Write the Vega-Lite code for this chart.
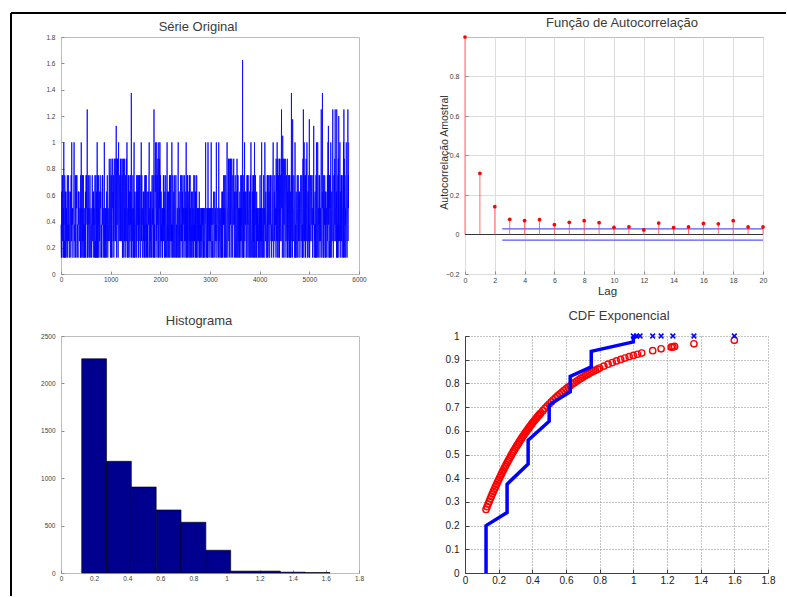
{
  "$schema": "https://vega.github.io/schema/vega-lite/v6.json",
  "background": "white",
  "padding": {"left": 9, "top": 11, "right": 0, "bottom": 0},
  "columns": 2,
  "spacing": {"row": 62, "column": 106},
  "bounds": "flush",
  "config": {
    "font": "Liberation Sans",
    "view": {"stroke": "#bdbdbd", "strokeWidth": 1},
    "axis": {
      "grid": false, "domain": false, "ticks": true, "tickColor": "#8c8c8c", "tickSize": -3,
      "labelFont": "Liberation Sans", "labelFontSize": 6.5, "labelColor": "#404040",
      "labelFlush": false, "labelOverlap": false, "labelBound": false,
      "titleFont": "Liberation Sans", "titleFontWeight": "normal", "titleColor": "#303030"
    },
    "axisX": {"labelPadding": 5},
    "axisY": {"labelPadding": 9},
    "title": {"font": "Liberation Sans", "fontSize": 13, "fontWeight": "normal", "color": "#3a3a3a", "frame": "group", "anchor": "middle"}
  },
  "concat": [
    {
      "width": 298, "height": 237,
      "title": {"text": "Série Original", "dx": -12, "offset": -22},
      "layer": [
        {
          "data": {"values": [
{"t":0,"v":0.375},{"t":8,"v":0.125},{"t":16,"v":0.25},{"t":24,"v":0.75},{"t":32,"v":0.25},{"t":40,"v":0.5},{"t":48,"v":0.5},{"t":56,"v":1},{"t":64,"v":0.125},{"t":72,"v":0.125},{"t":80,"v":0.625},{"t":88,"v":0.625},{"t":96,"v":0.375},{"t":104,"v":0.125},{"t":112,"v":0.375},
{"t":120,"v":0.5},{"t":128,"v":0.75},{"t":136,"v":0.125},{"t":144,"v":0.25},{"t":152,"v":0.75},{"t":160,"v":0.625},{"t":168,"v":0.125},{"t":176,"v":0.375},{"t":184,"v":0.375},{"t":192,"v":0.625},{"t":200,"v":0.125},{"t":208,"v":0.25},{"t":216,"v":1},{"t":224,"v":0.5},{"t":232,"v":0.5},
{"t":240,"v":0.125},{"t":248,"v":0.375},{"t":256,"v":0.5},{"t":264,"v":1},{"t":272,"v":0.25},{"t":280,"v":0.125},{"t":288,"v":0.75},{"t":296,"v":0.125},{"t":304,"v":0.75},{"t":312,"v":0.5},{"t":320,"v":0.75},{"t":328,"v":0.25},{"t":336,"v":0.375},{"t":344,"v":0.125},{"t":352,"v":0.625},
{"t":360,"v":0.625},{"t":368,"v":0.25},{"t":376,"v":0.375},{"t":384,"v":0.5},{"t":392,"v":0.125},{"t":400,"v":0.125},{"t":408,"v":1},{"t":416,"v":0.375},{"t":424,"v":0.5},{"t":432,"v":0.75},{"t":440,"v":0.125},{"t":448,"v":0.25},{"t":456,"v":0.5},{"t":464,"v":0.25},{"t":472,"v":0.125},
{"t":480,"v":0.375},{"t":488,"v":0.125},{"t":496,"v":0.25},{"t":504,"v":0.75},{"t":512,"v":0.5},{"t":520,"v":0.625},{"t":528,"v":1.25},{"t":536,"v":0.125},{"t":544,"v":0.125},{"t":552,"v":0.375},{"t":560,"v":0.625},{"t":568,"v":0.5},{"t":576,"v":0.25},{"t":584,"v":0.75},{"t":592,"v":0.375},
{"t":600,"v":0.125},{"t":608,"v":0.5},{"t":616,"v":0.375},{"t":624,"v":0.375},{"t":632,"v":0.75},{"t":640,"v":0.25},{"t":648,"v":0.125},{"t":656,"v":0.625},{"t":664,"v":0.5},{"t":672,"v":0.25},{"t":680,"v":0.5},{"t":688,"v":0.125},{"t":696,"v":0.125},{"t":704,"v":0.75},{"t":712,"v":0.625},
{"t":720,"v":0.375},{"t":728,"v":1},{"t":736,"v":0.125},{"t":744,"v":0.125},{"t":752,"v":0.75},{"t":760,"v":0.5},{"t":768,"v":0.5},{"t":776,"v":0.25},{"t":784,"v":0.375},{"t":792,"v":0.75},{"t":800,"v":0.625},{"t":808,"v":0.25},{"t":816,"v":0.125},{"t":824,"v":0.375},{"t":832,"v":0.75},
{"t":840,"v":0.75},{"t":848,"v":0.125},{"t":856,"v":0.375},{"t":864,"v":0.5},{"t":872,"v":1},{"t":880,"v":0.125},{"t":888,"v":0.25},{"t":896,"v":0.375},{"t":904,"v":0.5},{"t":912,"v":0.125},{"t":920,"v":0.625},{"t":928,"v":0.25},{"t":936,"v":0.5},{"t":944,"v":0.125},{"t":952,"v":0.375},
{"t":960,"v":0.375},{"t":968,"v":0.625},{"t":976,"v":0.5},{"t":984,"v":0.75},{"t":992,"v":0.25},{"t":1000,"v":0.75},{"t":1008,"v":0.875},{"t":1016,"v":0.125},{"t":1024,"v":0.25},{"t":1032,"v":0.5},{"t":1040,"v":0.875},{"t":1048,"v":0.625},{"t":1056,"v":0.375},{"t":1064,"v":0.125},{"t":1072,"v":0.875},
{"t":1080,"v":0.875},{"t":1088,"v":0.25},{"t":1096,"v":0.5},{"t":1104,"v":0.625},{"t":1112,"v":1.125},{"t":1120,"v":0.125},{"t":1128,"v":0.375},{"t":1136,"v":0.875},{"t":1144,"v":0.875},{"t":1152,"v":0.125},{"t":1160,"v":1},{"t":1168,"v":0.375},{"t":1176,"v":0.5},{"t":1184,"v":0.75},{"t":1192,"v":0.25},
{"t":1200,"v":0.25},{"t":1208,"v":0.875},{"t":1216,"v":0.625},{"t":1224,"v":0.375},{"t":1232,"v":0.75},{"t":1240,"v":0.125},{"t":1248,"v":0.125},{"t":1256,"v":0.875},{"t":1264,"v":0.75},{"t":1272,"v":0.5},{"t":1280,"v":0.25},{"t":1288,"v":0.5},{"t":1296,"v":0.75},{"t":1304,"v":0.125},{"t":1312,"v":0.875},
{"t":1320,"v":0.5},{"t":1328,"v":1},{"t":1336,"v":0.125},{"t":1344,"v":0.375},{"t":1352,"v":0.125},{"t":1360,"v":0.5},{"t":1368,"v":0.75},{"t":1376,"v":0.625},{"t":1384,"v":0.375},{"t":1392,"v":0.25},{"t":1400,"v":0.75},{"t":1408,"v":0.625},{"t":1416,"v":1.375},{"t":1424,"v":0.125},{"t":1432,"v":0.25},
{"t":1440,"v":0.375},{"t":1448,"v":0.75},{"t":1456,"v":0.5},{"t":1464,"v":0.125},{"t":1472,"v":1},{"t":1480,"v":0.125},{"t":1488,"v":0.5},{"t":1496,"v":0.25},{"t":1504,"v":0.375},{"t":1512,"v":0.625},{"t":1520,"v":0.125},{"t":1528,"v":0.25},{"t":1536,"v":0.75},{"t":1544,"v":0.375},{"t":1552,"v":0.625},
{"t":1560,"v":0.75},{"t":1568,"v":0.125},{"t":1576,"v":0.375},{"t":1584,"v":0.5},{"t":1592,"v":0.75},{"t":1600,"v":0.125},{"t":1608,"v":0.25},{"t":1616,"v":1},{"t":1624,"v":0.5},{"t":1632,"v":0.375},{"t":1640,"v":0.125},{"t":1648,"v":0.25},{"t":1656,"v":0.625},{"t":1664,"v":0.5},{"t":1672,"v":0.125},
{"t":1680,"v":0.125},{"t":1688,"v":0.75},{"t":1696,"v":0.5},{"t":1704,"v":0.75},{"t":1712,"v":0.375},{"t":1720,"v":0.125},{"t":1728,"v":0.25},{"t":1736,"v":0.625},{"t":1744,"v":0.375},{"t":1752,"v":0.125},{"t":1760,"v":0.5},{"t":1768,"v":0.75},{"t":1776,"v":1},{"t":1784,"v":0.25},{"t":1792,"v":0.375},
{"t":1800,"v":0.625},{"t":1808,"v":0.125},{"t":1816,"v":0.25},{"t":1824,"v":0.375},{"t":1832,"v":0.75},{"t":1840,"v":0.5},{"t":1848,"v":0.5},{"t":1856,"v":0.75},{"t":1864,"v":0.125},{"t":1872,"v":1.25},{"t":1880,"v":0.125},{"t":1888,"v":0.375},{"t":1896,"v":0.75},{"t":1904,"v":1},{"t":1912,"v":0.5},
{"t":1920,"v":0.25},{"t":1928,"v":1},{"t":1936,"v":0.75},{"t":1944,"v":0.5},{"t":1952,"v":0.875},{"t":1960,"v":0.125},{"t":1968,"v":1},{"t":1976,"v":0.375},{"t":1984,"v":0.875},{"t":1992,"v":1},{"t":2000,"v":0.125},{"t":2008,"v":0.5},{"t":2016,"v":0.625},{"t":2024,"v":0.25},{"t":2032,"v":0.375},
{"t":2040,"v":0.5},{"t":2048,"v":0.125},{"t":2056,"v":0.25},{"t":2064,"v":0.75},{"t":2072,"v":0.75},{"t":2080,"v":0.5},{"t":2088,"v":0.375},{"t":2096,"v":0.25},{"t":2104,"v":0.125},{"t":2112,"v":0.625},{"t":2120,"v":0.125},{"t":2128,"v":0.375},{"t":2136,"v":1},{"t":2144,"v":0.5},{"t":2152,"v":0.125},
{"t":2160,"v":0.125},{"t":2168,"v":0.375},{"t":2176,"v":0.5},{"t":2184,"v":0.75},{"t":2192,"v":0.5},{"t":2200,"v":0.25},{"t":2208,"v":0.75},{"t":2216,"v":0.125},{"t":2224,"v":0.375},{"t":2232,"v":1},{"t":2240,"v":0.25},{"t":2248,"v":0.125},{"t":2256,"v":0.625},{"t":2264,"v":0.375},{"t":2272,"v":0.625},
{"t":2280,"v":0.125},{"t":2288,"v":0.75},{"t":2296,"v":0.375},{"t":2304,"v":0.5},{"t":2312,"v":0.75},{"t":2320,"v":0.125},{"t":2328,"v":0.25},{"t":2336,"v":0.375},{"t":2344,"v":0.5},{"t":2352,"v":0.125},{"t":2360,"v":1},{"t":2368,"v":0.25},{"t":2376,"v":0.625},{"t":2384,"v":0.125},{"t":2392,"v":0.5},
{"t":2400,"v":0.5},{"t":2408,"v":0.75},{"t":2416,"v":0.125},{"t":2424,"v":0.25},{"t":2432,"v":0.625},{"t":2440,"v":0.375},{"t":2448,"v":0.125},{"t":2456,"v":0.75},{"t":2464,"v":0.5},{"t":2472,"v":0.375},{"t":2480,"v":0.125},{"t":2488,"v":0.25},{"t":2496,"v":0.5},{"t":2504,"v":0.25},{"t":2512,"v":0.625},
{"t":2520,"v":1},{"t":2528,"v":0.375},{"t":2536,"v":0.25},{"t":2544,"v":0.125},{"t":2552,"v":0.75},{"t":2560,"v":0.125},{"t":2568,"v":0.5},{"t":2576,"v":0.625},{"t":2584,"v":0.375},{"t":2592,"v":0.125},{"t":2600,"v":0.75},{"t":2608,"v":0.5},{"t":2616,"v":0.25},{"t":2624,"v":0.5},{"t":2632,"v":0.125},
{"t":2640,"v":0.125},{"t":2648,"v":0.625},{"t":2656,"v":0.5},{"t":2664,"v":0.375},{"t":2672,"v":0.75},{"t":2680,"v":0.25},{"t":2688,"v":0.25},{"t":2696,"v":0.75},{"t":2704,"v":0.625},{"t":2712,"v":0.125},{"t":2720,"v":0.5},{"t":2728,"v":0.125},{"t":2736,"v":0.375},{"t":2744,"v":0.125},{"t":2752,"v":0.375},
{"t":2760,"v":0.5},{"t":2768,"v":0.25},{"t":2776,"v":0.125},{"t":2784,"v":0.625},{"t":2792,"v":0.125},{"t":2800,"v":0.375},{"t":2808,"v":0.375},{"t":2816,"v":0.5},{"t":2824,"v":0.25},{"t":2832,"v":0.125},{"t":2840,"v":0.25},{"t":2848,"v":0.5},{"t":2856,"v":0.5},{"t":2864,"v":0.375},{"t":2872,"v":0.125},
{"t":2880,"v":0.125},{"t":2888,"v":0.5},{"t":2896,"v":0.25},{"t":2904,"v":0.375},{"t":2912,"v":1},{"t":2920,"v":0.375},{"t":2928,"v":0.25},{"t":2936,"v":0.5},{"t":2944,"v":0.125},{"t":2952,"v":0.125},{"t":2960,"v":1},{"t":2968,"v":0.5},{"t":2976,"v":0.375},{"t":2984,"v":0.125},{"t":2992,"v":0.25},
{"t":3000,"v":0.5},{"t":3008,"v":0.25},{"t":3016,"v":0.375},{"t":3024,"v":1},{"t":3032,"v":0.375},{"t":3040,"v":0.125},{"t":3048,"v":0.125},{"t":3056,"v":0.5},{"t":3064,"v":0.5},{"t":3072,"v":0.625},{"t":3080,"v":0.125},{"t":3088,"v":0.25},{"t":3096,"v":0.625},{"t":3104,"v":0.25},{"t":3112,"v":0.375},
{"t":3120,"v":0.375},{"t":3128,"v":1},{"t":3136,"v":0.125},{"t":3144,"v":0.125},{"t":3152,"v":0.5},{"t":3160,"v":0.5},{"t":3168,"v":0.25},{"t":3176,"v":1},{"t":3184,"v":0.25},{"t":3192,"v":0.375},{"t":3200,"v":0.125},{"t":3208,"v":0.375},{"t":3216,"v":0.5},{"t":3224,"v":0.25},{"t":3232,"v":0.125},
{"t":3240,"v":0.625},{"t":3248,"v":0.125},{"t":3256,"v":0.25},{"t":3264,"v":0.5},{"t":3272,"v":0.375},{"t":3280,"v":0.5},{"t":3288,"v":0.75},{"t":3296,"v":0.25},{"t":3304,"v":0.375},{"t":3312,"v":0.125},{"t":3320,"v":0.625},{"t":3328,"v":0.125},{"t":3336,"v":0.375},{"t":3344,"v":1},{"t":3352,"v":0.5},
{"t":3360,"v":0.125},{"t":3368,"v":0.5},{"t":3376,"v":0.375},{"t":3384,"v":0.875},{"t":3392,"v":0.25},{"t":3400,"v":0.625},{"t":3408,"v":0.75},{"t":3416,"v":0.875},{"t":3424,"v":0.125},{"t":3432,"v":0.375},{"t":3440,"v":0.875},{"t":3448,"v":0.5},{"t":3456,"v":0.125},{"t":3464,"v":0.625},{"t":3472,"v":0.75},
{"t":3480,"v":0.875},{"t":3488,"v":0.25},{"t":3496,"v":0.625},{"t":3504,"v":0.5},{"t":3512,"v":0.125},{"t":3520,"v":0.375},{"t":3528,"v":0.625},{"t":3536,"v":0.375},{"t":3544,"v":0.875},{"t":3552,"v":0.75},{"t":3560,"v":0.125},{"t":3568,"v":0.125},{"t":3576,"v":0.5},{"t":3584,"v":0.25},{"t":3592,"v":0.5},
{"t":3600,"v":0.625},{"t":3608,"v":0.125},{"t":3616,"v":0.25},{"t":3624,"v":0.375},{"t":3632,"v":0.75},{"t":3640,"v":0.5},{"t":3648,"v":0.5},{"t":3656,"v":1.625},{"t":3664,"v":0.125},{"t":3672,"v":0.125},{"t":3680,"v":0.625},{"t":3688,"v":0.375},{"t":3696,"v":1},{"t":3704,"v":0.25},{"t":3712,"v":0.5},
{"t":3720,"v":0.5},{"t":3728,"v":0.125},{"t":3736,"v":0.25},{"t":3744,"v":0.75},{"t":3752,"v":0.375},{"t":3760,"v":0.5},{"t":3768,"v":0.75},{"t":3776,"v":0.25},{"t":3784,"v":0.125},{"t":3792,"v":0.625},{"t":3800,"v":0.125},{"t":3808,"v":0.375},{"t":3816,"v":0.5},{"t":3824,"v":1},{"t":3832,"v":0.25},
{"t":3840,"v":0.125},{"t":3848,"v":0.375},{"t":3856,"v":0.5},{"t":3864,"v":0.75},{"t":3872,"v":0.25},{"t":3880,"v":0.125},{"t":3888,"v":0.625},{"t":3896,"v":1},{"t":3904,"v":0.25},{"t":3912,"v":0.125},{"t":3920,"v":0.5},{"t":3928,"v":0.5},{"t":3936,"v":0.375},{"t":3944,"v":0.125},{"t":3952,"v":0.375},
{"t":3960,"v":0.5},{"t":3968,"v":0.25},{"t":3976,"v":0.125},{"t":3984,"v":0.375},{"t":3992,"v":0.125},{"t":4000,"v":0.375},{"t":4008,"v":0.75},{"t":4016,"v":0.5},{"t":4024,"v":0.25},{"t":4032,"v":0.125},{"t":4040,"v":1},{"t":4048,"v":0.5},{"t":4056,"v":0.375},{"t":4064,"v":0.25},{"t":4072,"v":0.125},
{"t":4080,"v":0.75},{"t":4088,"v":0.125},{"t":4096,"v":0.5},{"t":4104,"v":1},{"t":4112,"v":0.5},{"t":4120,"v":0.25},{"t":4128,"v":0.375},{"t":4136,"v":0.125},{"t":4144,"v":0.375},{"t":4152,"v":0.75},{"t":4160,"v":0.625},{"t":4168,"v":0.125},{"t":4176,"v":0.25},{"t":4184,"v":0.75},{"t":4192,"v":0.625},
{"t":4200,"v":0.125},{"t":4208,"v":0.75},{"t":4216,"v":0.375},{"t":4224,"v":0.5},{"t":4232,"v":0.375},{"t":4240,"v":0.125},{"t":4248,"v":0.75},{"t":4256,"v":0.25},{"t":4264,"v":0.5},{"t":4272,"v":1},{"t":4280,"v":0.125},{"t":4288,"v":0.25},{"t":4296,"v":0.625},{"t":4304,"v":0.75},{"t":4312,"v":0.5},
{"t":4320,"v":0.375},{"t":4328,"v":0.125},{"t":4336,"v":0.5},{"t":4344,"v":0.75},{"t":4352,"v":1},{"t":4360,"v":0.625},{"t":4368,"v":0.25},{"t":4376,"v":0.5},{"t":4384,"v":0.125},{"t":4392,"v":0.875},{"t":4400,"v":0.125},{"t":4408,"v":0.875},{"t":4416,"v":0.75},{"t":4424,"v":0.375},{"t":4432,"v":0.25},
{"t":4440,"v":1.25},{"t":4448,"v":0.875},{"t":4456,"v":0.125},{"t":4464,"v":1.05},{"t":4472,"v":0.25},{"t":4480,"v":0.375},{"t":4488,"v":0.5},{"t":4496,"v":0.875},{"t":4504,"v":0.5},{"t":4512,"v":0.125},{"t":4520,"v":0.75},{"t":4528,"v":0.25},{"t":4536,"v":0.375},{"t":4544,"v":0.625},{"t":4552,"v":0.125},
{"t":4560,"v":0.125},{"t":4568,"v":0.5},{"t":4576,"v":0.375},{"t":4584,"v":0.75},{"t":4592,"v":0.25},{"t":4600,"v":0.125},{"t":4608,"v":0.75},{"t":4616,"v":0.375},{"t":4624,"v":0.625},{"t":4632,"v":0.125},{"t":4640,"v":1.375},{"t":4648,"v":0.25},{"t":4656,"v":0.5},{"t":4664,"v":1.175},{"t":4672,"v":0.5},
{"t":4680,"v":0.25},{"t":4688,"v":0.75},{"t":4696,"v":0.5},{"t":4704,"v":0.125},{"t":4712,"v":1},{"t":4720,"v":0.125},{"t":4728,"v":0.375},{"t":4736,"v":0.625},{"t":4744,"v":0.375},{"t":4752,"v":0.125},{"t":4760,"v":0.5},{"t":4768,"v":0.25},{"t":4776,"v":0.75},{"t":4784,"v":0.25},{"t":4792,"v":0.625},
{"t":4800,"v":0.625},{"t":4808,"v":0.125},{"t":4816,"v":0.25},{"t":4824,"v":0.75},{"t":4832,"v":0.375},{"t":4840,"v":0.5},{"t":4848,"v":0.75},{"t":4856,"v":0.125},{"t":4864,"v":0.125},{"t":4872,"v":0.875},{"t":4880,"v":1.25},{"t":4888,"v":0.375},{"t":4896,"v":1},{"t":4904,"v":0.25},{"t":4912,"v":0.75},
{"t":4920,"v":0.75},{"t":4928,"v":0.125},{"t":4936,"v":0.875},{"t":4944,"v":0.5},{"t":4952,"v":1},{"t":4960,"v":0.25},{"t":4968,"v":0.375},{"t":4976,"v":0.625},{"t":4984,"v":0.5},{"t":4992,"v":0.125},{"t":5000,"v":1.175},{"t":5008,"v":0.125},{"t":5016,"v":0.25},{"t":5024,"v":0.75},{"t":5032,"v":0.375},
{"t":5040,"v":0.375},{"t":5048,"v":0.75},{"t":5056,"v":0.25},{"t":5064,"v":0.125},{"t":5072,"v":0.625},{"t":5080,"v":0.5},{"t":5088,"v":1.125},{"t":5096,"v":0.25},{"t":5104,"v":0.375},{"t":5112,"v":0.5},{"t":5120,"v":0.125},{"t":5128,"v":0.125},{"t":5136,"v":0.75},{"t":5144,"v":1},{"t":5152,"v":0.5},
{"t":5160,"v":0.125},{"t":5168,"v":1},{"t":5176,"v":0.375},{"t":5184,"v":0.5},{"t":5192,"v":0.375},{"t":5200,"v":0.25},{"t":5208,"v":0.75},{"t":5216,"v":0.125},{"t":5224,"v":0.5},{"t":5232,"v":0.625},{"t":5240,"v":1.25},{"t":5248,"v":0.125},{"t":5256,"v":0.25},{"t":5264,"v":1.375},{"t":5272,"v":0.625},
{"t":5280,"v":0.125},{"t":5288,"v":0.75},{"t":5296,"v":0.5},{"t":5304,"v":0.375},{"t":5312,"v":0.75},{"t":5320,"v":0.125},{"t":5328,"v":0.25},{"t":5336,"v":0.625},{"t":5344,"v":0.375},{"t":5352,"v":0.125},{"t":5360,"v":0.5},{"t":5368,"v":0.25},{"t":5376,"v":1},{"t":5384,"v":1.125},{"t":5392,"v":0.75},
{"t":5400,"v":0.25},{"t":5408,"v":0.75},{"t":5416,"v":0.625},{"t":5424,"v":0.125},{"t":5432,"v":1},{"t":5440,"v":0.125},{"t":5448,"v":0.5},{"t":5456,"v":0.375},{"t":5464,"v":0.5},{"t":5472,"v":1.25},{"t":5480,"v":0.125},{"t":5488,"v":0.375},{"t":5496,"v":0.75},{"t":5504,"v":0.75},{"t":5512,"v":0.875},
{"t":5520,"v":1.25},{"t":5528,"v":0.25},{"t":5536,"v":0.5},{"t":5544,"v":0.625},{"t":5552,"v":1.25},{"t":5560,"v":0.125},{"t":5568,"v":0.125},{"t":5576,"v":0.75},{"t":5584,"v":0.875},{"t":5592,"v":1.2},{"t":5600,"v":0.375},{"t":5608,"v":0.25},{"t":5616,"v":1},{"t":5624,"v":0.125},{"t":5632,"v":0.625},
{"t":5640,"v":0.75},{"t":5648,"v":0.75},{"t":5656,"v":0.375},{"t":5664,"v":0.25},{"t":5672,"v":0.5},{"t":5680,"v":0.125},{"t":5688,"v":1},{"t":5696,"v":1.25},{"t":5704,"v":0.875},{"t":5712,"v":0.125},{"t":5720,"v":0.625},{"t":5728,"v":0.5},{"t":5736,"v":0.375},{"t":5744,"v":1},{"t":5752,"v":0.25},
{"t":5760,"v":0.125},{"t":5768,"v":0.5},{"t":5776,"v":1.25},{"t":5784,"v":0.75},{"t":5792,"v":1},
{"t":4,"v":0.25},{"t":12,"v":0.625},{"t":20,"v":0.125},{"t":28,"v":0.5},{"t":36,"v":0.75},{"t":44,"v":0.375},{"t":52,"v":0.125},{"t":60,"v":0.5},{"t":68,"v":0.25},{"t":76,"v":0.75},{"t":84,"v":0.375},{"t":92,"v":0.125},{"t":100,"v":0.625},{"t":108,"v":0.5},{"t":116,"v":0.25},
{"t":124,"v":0.5},{"t":132,"v":0.125},{"t":140,"v":0.375},{"t":148,"v":0.75},{"t":156,"v":0.25},{"t":164,"v":0.625},{"t":172,"v":0.125},{"t":180,"v":0.375},{"t":188,"v":0.5},{"t":196,"v":0.125},{"t":204,"v":0.75},{"t":212,"v":0.25},{"t":220,"v":0.5},{"t":228,"v":0.375},{"t":236,"v":0.125},
{"t":244,"v":0.125},{"t":252,"v":0.5},{"t":260,"v":0.75},{"t":268,"v":0.25},{"t":276,"v":0.375},{"t":284,"v":0.125},{"t":292,"v":0.625},{"t":300,"v":0.25},{"t":308,"v":0.75},{"t":316,"v":0.5},{"t":324,"v":0.125},{"t":332,"v":0.375},{"t":340,"v":0.25},{"t":348,"v":0.625},{"t":356,"v":0.375},
{"t":364,"v":0.625},{"t":372,"v":0.25},{"t":380,"v":0.5},{"t":388,"v":0.125},{"t":396,"v":0.75},{"t":404,"v":0.375},{"t":412,"v":0.5},{"t":420,"v":0.125},{"t":428,"v":0.25},{"t":436,"v":0.625},{"t":444,"v":0.375},{"t":452,"v":0.75},{"t":460,"v":0.125},{"t":468,"v":0.5},{"t":476,"v":0.25},
{"t":484,"v":0.25},{"t":492,"v":0.625},{"t":500,"v":0.125},{"t":508,"v":0.5},{"t":516,"v":0.75},{"t":524,"v":0.375},{"t":532,"v":0.125},{"t":540,"v":0.5},{"t":548,"v":0.25},{"t":556,"v":0.75},{"t":564,"v":0.375},{"t":572,"v":0.125},{"t":580,"v":0.625},{"t":588,"v":0.5},{"t":596,"v":0.25},
{"t":604,"v":0.5},{"t":612,"v":0.125},{"t":620,"v":0.375},{"t":628,"v":0.75},{"t":636,"v":0.25},{"t":644,"v":0.625},{"t":652,"v":0.125},{"t":660,"v":0.375},{"t":668,"v":0.5},{"t":676,"v":0.125},{"t":684,"v":0.75},{"t":692,"v":0.25},{"t":700,"v":0.5},{"t":708,"v":0.375},{"t":716,"v":0.125},
{"t":724,"v":0.125},{"t":732,"v":0.5},{"t":740,"v":0.75},{"t":748,"v":0.25},{"t":756,"v":0.375},{"t":764,"v":0.125},{"t":772,"v":0.625},{"t":780,"v":0.25},{"t":788,"v":0.75},{"t":796,"v":0.5},{"t":804,"v":0.125},{"t":812,"v":0.375},{"t":820,"v":0.25},{"t":828,"v":0.625},{"t":836,"v":0.375},
{"t":844,"v":0.625},{"t":852,"v":0.25},{"t":860,"v":0.5},{"t":868,"v":0.125},{"t":876,"v":0.75},{"t":884,"v":0.375},{"t":892,"v":0.5},{"t":900,"v":0.125},{"t":908,"v":0.25},{"t":916,"v":0.625},{"t":924,"v":0.375},{"t":932,"v":0.75},{"t":940,"v":0.125},{"t":948,"v":0.5},{"t":956,"v":0.25},
{"t":964,"v":0.5},{"t":972,"v":0.875},{"t":980,"v":0.25},{"t":988,"v":0.625},{"t":996,"v":0.125},{"t":1004,"v":0.875},{"t":1012,"v":0.375},{"t":1020,"v":0.75},{"t":1028,"v":0.125},{"t":1036,"v":0.875},{"t":1044,"v":0.5},{"t":1052,"v":0.25},{"t":1060,"v":0.75},{"t":1068,"v":0.375},{"t":1076,"v":0.875},
{"t":1084,"v":0.5},{"t":1092,"v":0.875},{"t":1100,"v":0.25},{"t":1108,"v":0.625},{"t":1116,"v":0.125},{"t":1124,"v":0.875},{"t":1132,"v":0.375},{"t":1140,"v":0.75},{"t":1148,"v":0.125},{"t":1156,"v":0.875},{"t":1164,"v":0.5},{"t":1172,"v":0.25},{"t":1180,"v":0.75},{"t":1188,"v":0.375},{"t":1196,"v":0.875},
{"t":1204,"v":0.5},{"t":1212,"v":0.875},{"t":1220,"v":0.25},{"t":1228,"v":0.625},{"t":1236,"v":0.125},{"t":1244,"v":0.875},{"t":1252,"v":0.375},{"t":1260,"v":0.75},{"t":1268,"v":0.125},{"t":1276,"v":0.875},{"t":1284,"v":0.5},{"t":1292,"v":0.25},{"t":1300,"v":0.75},{"t":1308,"v":0.375},{"t":1316,"v":0.875},
{"t":1324,"v":0.25},{"t":1332,"v":0.625},{"t":1340,"v":0.125},{"t":1348,"v":0.5},{"t":1356,"v":0.75},{"t":1364,"v":0.375},{"t":1372,"v":0.125},{"t":1380,"v":0.5},{"t":1388,"v":0.25},{"t":1396,"v":0.75},{"t":1404,"v":0.375},{"t":1412,"v":0.125},{"t":1420,"v":0.625},{"t":1428,"v":0.5},{"t":1436,"v":0.25},
{"t":1444,"v":0.5},{"t":1452,"v":0.125},{"t":1460,"v":0.375},{"t":1468,"v":0.75},{"t":1476,"v":0.25},{"t":1484,"v":0.625},{"t":1492,"v":0.125},{"t":1500,"v":0.375},{"t":1508,"v":0.5},{"t":1516,"v":0.125},{"t":1524,"v":0.75},{"t":1532,"v":0.25},{"t":1540,"v":0.5},{"t":1548,"v":0.375},{"t":1556,"v":0.125},
{"t":1564,"v":0.125},{"t":1572,"v":0.5},{"t":1580,"v":0.75},{"t":1588,"v":0.25},{"t":1596,"v":0.375},{"t":1604,"v":0.125},{"t":1612,"v":0.625},{"t":1620,"v":0.25},{"t":1628,"v":0.75},{"t":1636,"v":0.5},{"t":1644,"v":0.125},{"t":1652,"v":0.375},{"t":1660,"v":0.25},{"t":1668,"v":0.625},{"t":1676,"v":0.375},
{"t":1684,"v":0.625},{"t":1692,"v":0.25},{"t":1700,"v":0.5},{"t":1708,"v":0.125},{"t":1716,"v":0.75},{"t":1724,"v":0.375},{"t":1732,"v":0.5},{"t":1740,"v":0.125},{"t":1748,"v":0.25},{"t":1756,"v":0.625},{"t":1764,"v":0.375},{"t":1772,"v":0.75},{"t":1780,"v":0.125},{"t":1788,"v":0.5},{"t":1796,"v":0.25},
{"t":1804,"v":0.25},{"t":1812,"v":0.625},{"t":1820,"v":0.125},{"t":1828,"v":0.5},{"t":1836,"v":0.75},{"t":1844,"v":0.375},{"t":1852,"v":0.125},{"t":1860,"v":0.5},{"t":1868,"v":0.25},{"t":1876,"v":0.75},{"t":1884,"v":0.375},{"t":1892,"v":0.125},{"t":1900,"v":0.625},{"t":1908,"v":0.5},{"t":1916,"v":0.25},
{"t":1924,"v":0.5},{"t":1932,"v":0.125},{"t":1940,"v":0.375},{"t":1948,"v":0.75},{"t":1956,"v":0.25},{"t":1964,"v":0.625},{"t":1972,"v":0.125},{"t":1980,"v":0.375},{"t":1988,"v":0.5},{"t":1996,"v":0.125},{"t":2004,"v":0.75},{"t":2012,"v":0.25},{"t":2020,"v":0.5},{"t":2028,"v":0.375},{"t":2036,"v":0.125},
{"t":2044,"v":0.125},{"t":2052,"v":0.5},{"t":2060,"v":0.75},{"t":2068,"v":0.25},{"t":2076,"v":0.375},{"t":2084,"v":0.125},{"t":2092,"v":0.625},{"t":2100,"v":0.25},{"t":2108,"v":0.75},{"t":2116,"v":0.5},{"t":2124,"v":0.125},{"t":2132,"v":0.375},{"t":2140,"v":0.25},{"t":2148,"v":0.625},{"t":2156,"v":0.375},
{"t":2164,"v":0.625},{"t":2172,"v":0.25},{"t":2180,"v":0.5},{"t":2188,"v":0.125},{"t":2196,"v":0.75},{"t":2204,"v":0.375},{"t":2212,"v":0.5},{"t":2220,"v":0.125},{"t":2228,"v":0.25},{"t":2236,"v":0.625},{"t":2244,"v":0.375},{"t":2252,"v":0.75},{"t":2260,"v":0.125},{"t":2268,"v":0.5},{"t":2276,"v":0.25},
{"t":2284,"v":0.25},{"t":2292,"v":0.625},{"t":2300,"v":0.125},{"t":2308,"v":0.5},{"t":2316,"v":0.75},{"t":2324,"v":0.375},{"t":2332,"v":0.125},{"t":2340,"v":0.5},{"t":2348,"v":0.25},{"t":2356,"v":0.75},{"t":2364,"v":0.375},{"t":2372,"v":0.125},{"t":2380,"v":0.625},{"t":2388,"v":0.5},{"t":2396,"v":0.25},
{"t":2404,"v":0.5},{"t":2412,"v":0.125},{"t":2420,"v":0.375},{"t":2428,"v":0.75},{"t":2436,"v":0.25},{"t":2444,"v":0.625},{"t":2452,"v":0.125},{"t":2460,"v":0.375},{"t":2468,"v":0.5},{"t":2476,"v":0.125},{"t":2484,"v":0.75},{"t":2492,"v":0.25},{"t":2500,"v":0.5},{"t":2508,"v":0.375},{"t":2516,"v":0.125},
{"t":2524,"v":0.125},{"t":2532,"v":0.5},{"t":2540,"v":0.75},{"t":2548,"v":0.25},{"t":2556,"v":0.375},{"t":2564,"v":0.125},{"t":2572,"v":0.625},{"t":2580,"v":0.25},{"t":2588,"v":0.75},{"t":2596,"v":0.5},{"t":2604,"v":0.125},{"t":2612,"v":0.375},{"t":2620,"v":0.25},{"t":2628,"v":0.625},{"t":2636,"v":0.375},
{"t":2644,"v":0.625},{"t":2652,"v":0.25},{"t":2660,"v":0.5},{"t":2668,"v":0.125},{"t":2676,"v":0.75},{"t":2684,"v":0.375},{"t":2692,"v":0.5},{"t":2700,"v":0.125},{"t":2708,"v":0.25},{"t":2716,"v":0.625},{"t":2724,"v":0.375},{"t":2732,"v":0.75},{"t":2740,"v":0.125},{"t":2748,"v":0.5},{"t":2756,"v":0.25},
{"t":2764,"v":0.25},{"t":2772,"v":0.5},{"t":2780,"v":0.125},{"t":2788,"v":0.375},{"t":2796,"v":0.5},{"t":2804,"v":0.25},{"t":2812,"v":0.125},{"t":2820,"v":0.375},{"t":2828,"v":0.5},{"t":2836,"v":0.125},{"t":2844,"v":0.25},{"t":2852,"v":0.375},{"t":2860,"v":0.125},{"t":2868,"v":0.5},{"t":2876,"v":0.25},
{"t":2884,"v":0.25},{"t":2892,"v":0.5},{"t":2900,"v":0.125},{"t":2908,"v":0.375},{"t":2916,"v":0.5},{"t":2924,"v":0.25},{"t":2932,"v":0.125},{"t":2940,"v":0.375},{"t":2948,"v":0.5},{"t":2956,"v":0.125},{"t":2964,"v":0.25},{"t":2972,"v":0.375},{"t":2980,"v":0.125},{"t":2988,"v":0.5},{"t":2996,"v":0.25},
{"t":3004,"v":0.25},{"t":3012,"v":0.5},{"t":3020,"v":0.125},{"t":3028,"v":0.375},{"t":3036,"v":0.5},{"t":3044,"v":0.25},{"t":3052,"v":0.125},{"t":3060,"v":0.375},{"t":3068,"v":0.5},{"t":3076,"v":0.125},{"t":3084,"v":0.25},{"t":3092,"v":0.375},{"t":3100,"v":0.125},{"t":3108,"v":0.5},{"t":3116,"v":0.25},
{"t":3124,"v":0.25},{"t":3132,"v":0.5},{"t":3140,"v":0.125},{"t":3148,"v":0.375},{"t":3156,"v":0.5},{"t":3164,"v":0.25},{"t":3172,"v":0.125},{"t":3180,"v":0.375},{"t":3188,"v":0.5},{"t":3196,"v":0.125},{"t":3204,"v":0.25},{"t":3212,"v":0.375},{"t":3220,"v":0.125},{"t":3228,"v":0.5},{"t":3236,"v":0.25},
{"t":3244,"v":0.25},{"t":3252,"v":0.625},{"t":3260,"v":0.125},{"t":3268,"v":0.5},{"t":3276,"v":0.75},{"t":3284,"v":0.375},{"t":3292,"v":0.125},{"t":3300,"v":0.5},{"t":3308,"v":0.25},{"t":3316,"v":0.75},{"t":3324,"v":0.375},{"t":3332,"v":0.125},{"t":3340,"v":0.625},{"t":3348,"v":0.5},{"t":3356,"v":0.25},
{"t":3364,"v":0.5},{"t":3372,"v":0.875},{"t":3380,"v":0.25},{"t":3388,"v":0.625},{"t":3396,"v":0.125},{"t":3404,"v":0.875},{"t":3412,"v":0.375},{"t":3420,"v":0.75},{"t":3428,"v":0.125},{"t":3436,"v":0.875},{"t":3444,"v":0.5},{"t":3452,"v":0.25},{"t":3460,"v":0.75},{"t":3468,"v":0.375},{"t":3476,"v":0.875},
{"t":3484,"v":0.5},{"t":3492,"v":0.125},{"t":3500,"v":0.375},{"t":3508,"v":0.75},{"t":3516,"v":0.25},{"t":3524,"v":0.625},{"t":3532,"v":0.125},{"t":3540,"v":0.375},{"t":3548,"v":0.5},{"t":3556,"v":0.125},{"t":3564,"v":0.75},{"t":3572,"v":0.25},{"t":3580,"v":0.5},{"t":3588,"v":0.375},{"t":3596,"v":0.125},
{"t":3604,"v":0.125},{"t":3612,"v":0.5},{"t":3620,"v":0.75},{"t":3628,"v":0.25},{"t":3636,"v":0.375},{"t":3644,"v":0.125},{"t":3652,"v":0.625},{"t":3660,"v":0.25},{"t":3668,"v":0.75},{"t":3676,"v":0.5},{"t":3684,"v":0.125},{"t":3692,"v":0.375},{"t":3700,"v":0.25},{"t":3708,"v":0.625},{"t":3716,"v":0.375},
{"t":3724,"v":0.625},{"t":3732,"v":0.25},{"t":3740,"v":0.5},{"t":3748,"v":0.125},{"t":3756,"v":0.75},{"t":3764,"v":0.375},{"t":3772,"v":0.5},{"t":3780,"v":0.125},{"t":3788,"v":0.25},{"t":3796,"v":0.625},{"t":3804,"v":0.375},{"t":3812,"v":0.75},{"t":3820,"v":0.125},{"t":3828,"v":0.5},{"t":3836,"v":0.25},
{"t":3844,"v":0.25},{"t":3852,"v":0.625},{"t":3860,"v":0.125},{"t":3868,"v":0.5},{"t":3876,"v":0.75},{"t":3884,"v":0.375},{"t":3892,"v":0.125},{"t":3900,"v":0.5},{"t":3908,"v":0.25},{"t":3916,"v":0.75},{"t":3924,"v":0.375},{"t":3932,"v":0.125},{"t":3940,"v":0.625},{"t":3948,"v":0.5},{"t":3956,"v":0.25},
{"t":3964,"v":0.25},{"t":3972,"v":0.5},{"t":3980,"v":0.125},{"t":3988,"v":0.375},{"t":3996,"v":0.5},{"t":4004,"v":0.25},{"t":4012,"v":0.125},{"t":4020,"v":0.375},{"t":4028,"v":0.5},{"t":4036,"v":0.125},{"t":4044,"v":0.25},{"t":4052,"v":0.375},{"t":4060,"v":0.125},{"t":4068,"v":0.5},{"t":4076,"v":0.25},
{"t":4084,"v":0.5},{"t":4092,"v":0.125},{"t":4100,"v":0.375},{"t":4108,"v":0.75},{"t":4116,"v":0.25},{"t":4124,"v":0.625},{"t":4132,"v":0.125},{"t":4140,"v":0.375},{"t":4148,"v":0.5},{"t":4156,"v":0.125},{"t":4164,"v":0.75},{"t":4172,"v":0.25},{"t":4180,"v":0.5},{"t":4188,"v":0.375},{"t":4196,"v":0.125},
{"t":4204,"v":0.125},{"t":4212,"v":0.5},{"t":4220,"v":0.75},{"t":4228,"v":0.25},{"t":4236,"v":0.375},{"t":4244,"v":0.125},{"t":4252,"v":0.625},{"t":4260,"v":0.25},{"t":4268,"v":0.75},{"t":4276,"v":0.5},{"t":4284,"v":0.125},{"t":4292,"v":0.375},{"t":4300,"v":0.25},{"t":4308,"v":0.625},{"t":4316,"v":0.375},
{"t":4324,"v":0.5},{"t":4332,"v":0.875},{"t":4340,"v":0.25},{"t":4348,"v":0.625},{"t":4356,"v":0.125},{"t":4364,"v":0.875},{"t":4372,"v":0.375},{"t":4380,"v":0.75},{"t":4388,"v":0.125},{"t":4396,"v":0.875},{"t":4404,"v":0.5},{"t":4412,"v":0.25},{"t":4420,"v":0.75},{"t":4428,"v":0.375},{"t":4436,"v":0.875},
{"t":4444,"v":0.5},{"t":4452,"v":0.875},{"t":4460,"v":0.25},{"t":4468,"v":0.625},{"t":4476,"v":0.125},{"t":4484,"v":0.875},{"t":4492,"v":0.375},{"t":4500,"v":0.75},{"t":4508,"v":0.125},{"t":4516,"v":0.875},{"t":4524,"v":0.5},{"t":4532,"v":0.25},{"t":4540,"v":0.75},{"t":4548,"v":0.375},{"t":4556,"v":0.875},
{"t":4564,"v":0.625},{"t":4572,"v":0.25},{"t":4580,"v":0.5},{"t":4588,"v":0.125},{"t":4596,"v":0.75},{"t":4604,"v":0.375},{"t":4612,"v":0.5},{"t":4620,"v":0.125},{"t":4628,"v":0.25},{"t":4636,"v":0.625},{"t":4644,"v":0.375},{"t":4652,"v":0.75},{"t":4660,"v":0.125},{"t":4668,"v":0.5},{"t":4676,"v":0.25},
{"t":4684,"v":0.25},{"t":4692,"v":0.625},{"t":4700,"v":0.125},{"t":4708,"v":0.5},{"t":4716,"v":0.75},{"t":4724,"v":0.375},{"t":4732,"v":0.125},{"t":4740,"v":0.5},{"t":4748,"v":0.25},{"t":4756,"v":0.75},{"t":4764,"v":0.375},{"t":4772,"v":0.125},{"t":4780,"v":0.625},{"t":4788,"v":0.5},{"t":4796,"v":0.25},
{"t":4804,"v":0.5},{"t":4812,"v":0.125},{"t":4820,"v":0.375},{"t":4828,"v":0.75},{"t":4836,"v":0.25},{"t":4844,"v":0.625},{"t":4852,"v":0.125},{"t":4860,"v":0.375},{"t":4868,"v":0.5},{"t":4876,"v":0.125},{"t":4884,"v":0.75},{"t":4892,"v":0.25},{"t":4900,"v":0.5},{"t":4908,"v":0.375},{"t":4916,"v":0.125},
{"t":4924,"v":0.125},{"t":4932,"v":0.5},{"t":4940,"v":0.75},{"t":4948,"v":0.25},{"t":4956,"v":0.375},{"t":4964,"v":0.125},{"t":4972,"v":0.625},{"t":4980,"v":0.25},{"t":4988,"v":0.75},{"t":4996,"v":0.5},{"t":5004,"v":0.125},{"t":5012,"v":0.375},{"t":5020,"v":0.25},{"t":5028,"v":0.625},{"t":5036,"v":0.375},
{"t":5044,"v":0.625},{"t":5052,"v":0.25},{"t":5060,"v":0.5},{"t":5068,"v":0.125},{"t":5076,"v":0.75},{"t":5084,"v":0.375},{"t":5092,"v":0.5},{"t":5100,"v":0.125},{"t":5108,"v":0.25},{"t":5116,"v":0.625},{"t":5124,"v":0.375},{"t":5132,"v":0.75},{"t":5140,"v":0.125},{"t":5148,"v":0.5},{"t":5156,"v":0.25},
{"t":5164,"v":0.25},{"t":5172,"v":0.625},{"t":5180,"v":0.125},{"t":5188,"v":0.5},{"t":5196,"v":0.75},{"t":5204,"v":0.375},{"t":5212,"v":0.125},{"t":5220,"v":0.5},{"t":5228,"v":0.25},{"t":5236,"v":0.75},{"t":5244,"v":0.375},{"t":5252,"v":0.125},{"t":5260,"v":0.625},{"t":5268,"v":0.5},{"t":5276,"v":0.25},
{"t":5284,"v":0.5},{"t":5292,"v":0.125},{"t":5300,"v":0.375},{"t":5308,"v":0.75},{"t":5316,"v":0.25},{"t":5324,"v":0.625},{"t":5332,"v":0.125},{"t":5340,"v":0.375},{"t":5348,"v":0.5},{"t":5356,"v":0.125},{"t":5364,"v":0.75},{"t":5372,"v":0.25},{"t":5380,"v":0.5},{"t":5388,"v":0.375},{"t":5396,"v":0.125},
{"t":5404,"v":0.125},{"t":5412,"v":0.5},{"t":5420,"v":0.75},{"t":5428,"v":0.25},{"t":5436,"v":0.375},{"t":5444,"v":0.125},{"t":5452,"v":0.625},{"t":5460,"v":0.25},{"t":5468,"v":0.75},{"t":5476,"v":0.5},{"t":5484,"v":0.125},{"t":5492,"v":0.375},{"t":5500,"v":0.25},{"t":5508,"v":0.625},{"t":5516,"v":0.375},
{"t":5524,"v":0.625},{"t":5532,"v":0.25},{"t":5540,"v":0.5},{"t":5548,"v":0.125},{"t":5556,"v":0.75},{"t":5564,"v":0.375},{"t":5572,"v":0.5},{"t":5580,"v":0.125},{"t":5588,"v":0.25},{"t":5596,"v":0.625},{"t":5604,"v":0.375},{"t":5612,"v":0.75},{"t":5620,"v":0.125},{"t":5628,"v":0.5},{"t":5636,"v":0.25},
{"t":5644,"v":0.25},{"t":5652,"v":0.625},{"t":5660,"v":0.125},{"t":5668,"v":0.5},{"t":5676,"v":0.75},{"t":5684,"v":0.375},{"t":5692,"v":0.125},{"t":5700,"v":0.5},{"t":5708,"v":0.25},{"t":5716,"v":0.75},{"t":5724,"v":0.375},{"t":5732,"v":0.125},{"t":5740,"v":0.625},{"t":5748,"v":0.5},{"t":5756,"v":0.25},
{"t":5764,"v":0.375},{"t":5772,"v":0.625},{"t":5780,"v":0.25},{"t":5788,"v":0.5}
          ]},
          "mark": {"type": "line", "stroke": "#0000ff", "strokeWidth": 0.8},
          "encoding": {
            "x": {"field": "t", "type": "quantitative", "scale": {"domain": [0, 6000]},
                  "axis": {"title": null, "format": "d", "values": [0, 1000, 2000, 3000, 4000, 5000, 6000]}},
            "y": {"field": "v", "type": "quantitative", "scale": {"domain": [0, 1.8]},
                  "axis": {"title": null, "format": "~g", "values": [0, 0.2, 0.4, 0.6, 0.8, 1, 1.2, 1.4, 1.6, 1.8]}}
          }
        },
        {
          "data": {"values": [{}]},
          "mark": {"type": "rule", "stroke": "#000000", "strokeWidth": 2},
          "encoding": {
            "x": {"datum": -1006.7, "axis": {"title": null, "format": "d", "values": [0, 1000, 2000, 3000, 4000, 5000, 6000]}},
            "x2": {"datum": 14597},
            "y": {"datum": 1.9823, "axis": {"title": null, "format": "~g", "values": [0, 0.2, 0.4, 0.6, 0.8, 1, 1.2, 1.4, 1.6, 1.8]}}
          }
        },
        {
          "data": {"values": [{}]},
          "mark": {"type": "rule", "stroke": "#000000", "strokeWidth": 2},
          "encoding": {
            "x": {"datum": -1006.7, "axis": {"title": null, "format": "d", "values": [0, 1000, 2000, 3000, 4000, 5000, 6000]}},
            "y": {"datum": 1.9823, "axis": {"title": null, "format": "~g", "values": [0, 0.2, 0.4, 0.6, 0.8, 1, 1.2, 1.4, 1.6, 1.8]}},
            "y2": {"datum": -2.4456}
          }
        }
      ]
    },
    {
      "width": 298, "height": 237,
      "title": {"text": "Função de Autocorrelação", "dx": 8, "offset": 5},
      "encoding": {
        "x": {"field": "x", "type": "quantitative", "scale": {"domain": [0, 20]},
              "axis": {"title": "Lag", "titleFontSize": 11.5, "titleX": 142, "titleY": 11, "titleBaseline": "top",
                       "labelFontSize": 7, "values": [0, 2, 4, 6, 8, 10, 12, 14, 16, 18, 20],
                       "grid": true, "gridColor": "#dcdcdc"}},
        "y": {"field": "y", "type": "quantitative", "scale": {"domain": [-0.2, 1]},
              "axis": {"title": "Autocorrelação Amostral", "titleFontSize": 10.5, "titleX": -16, "titleY": 115,
                       "labelFontSize": 7, "format": "~g", "values": [-0.2, 0, 0.2, 0.4, 0.6, 0.8],
                       "grid": true, "gridColor": "#dcdcdc"}}
      },
      "layer": [
        {
          "data": {"values": [{"x": 0, "x1": 20, "y": 0}]},
          "mark": {"type": "rule", "stroke": "#333333", "strokeWidth": 1},
          "encoding": {"x2": {"field": "x1"}}
        },
        {
          "data": {"values": [{"x": 2.5, "x1": 20, "y": 0.0285}, {"x": 2.5, "x1": 20, "y": -0.0285}]},
          "mark": {"type": "rule", "stroke": "#5555ff", "strokeWidth": 1.2},
          "encoding": {"x2": {"field": "x1"}}
        },
        {
          "data": {"values": [
            {"x": 0, "y": 1}, {"x": 1, "y": 0.31}, {"x": 2, "y": 0.141}, {"x": 3, "y": 0.077}, {"x": 4, "y": 0.07},
            {"x": 5, "y": 0.075}, {"x": 6, "y": 0.05}, {"x": 7, "y": 0.062}, {"x": 8, "y": 0.07}, {"x": 9, "y": 0.06},
            {"x": 10, "y": 0.036}, {"x": 11, "y": 0.039}, {"x": 12, "y": 0.023}, {"x": 13, "y": 0.058}, {"x": 14, "y": 0.035},
            {"x": 15, "y": 0.038}, {"x": 16, "y": 0.056}, {"x": 17, "y": 0.054}, {"x": 18, "y": 0.07}, {"x": 19, "y": 0.038},
            {"x": 20, "y": 0.038}
          ]},
          "layer": [
            {"mark": {"type": "rule", "stroke": "#ff4a4a", "strokeWidth": 0.8}, "encoding": {"y2": {"datum": 0}}},
            {"mark": {"type": "point", "filled": true, "fill": "#ff0000", "opacity": 1, "size": 14, "strokeWidth": 0}}
          ]
        }
      ]
    },
    {
      "width": 298, "height": 237,
      "title": {"text": "Histograma", "dx": -11, "offset": 5},
      "data": {"values": [
        {"x0": 0.125, "x1": 0.275, "n": 2260},
        {"x0": 0.275, "x1": 0.425, "n": 1178},
        {"x0": 0.425, "x1": 0.575, "n": 907},
        {"x0": 0.575, "x1": 0.725, "n": 665},
        {"x0": 0.725, "x1": 0.875, "n": 535},
        {"x0": 0.875, "x1": 1.025, "n": 240},
        {"x0": 1.025, "x1": 1.175, "n": 20},
        {"x0": 1.175, "x1": 1.325, "n": 20},
        {"x0": 1.325, "x1": 1.475, "n": 9},
        {"x0": 1.475, "x1": 1.625, "n": 5}
      ]},
      "mark": {"type": "rect", "fill": "#00008f", "stroke": "#000000", "strokeWidth": 0.6},
      "encoding": {
        "x": {"field": "x0", "type": "quantitative", "scale": {"domain": [0, 1.8]},
              "axis": {"title": null, "format": "~g", "values": [0, 0.2, 0.4, 0.6, 0.8, 1, 1.2, 1.4, 1.6, 1.8]}},
        "x2": {"field": "x1"},
        "y": {"field": "n", "type": "quantitative", "scale": {"domain": [0, 2500]},
              "axis": {"title": null, "format": "d", "values": [0, 500, 1000, 1500, 2000, 2500]}},
        "y2": {"datum": 0}
      }
    },
    {
      "width": 303, "height": 237,
      "title": {"text": "CDF Exponencial", "dx": 2.5, "offset": 6},
      "view": {"stroke": null},
      "encoding": {
        "x": {"field": "x", "type": "quantitative", "scale": {"domain": [0, 1.8]},
              "axis": {"title": null, "format": "~g", "values": [0, 0.2, 0.4, 0.6, 0.8, 1, 1.2, 1.4, 1.6, 1.8],
                       "labelFontSize": 10, "labelColor": "#202020", "labelPadding": 6,
                       "domain": true, "domainColor": "#404040", "tickColor": "#404040", "tickSize": -4,
                       "grid": true, "gridColor": "#8a8a8a", "gridDash": [1, 2]}},
        "y": {"field": "y", "type": "quantitative", "scale": {"domain": [0, 1]},
              "axis": {"title": null, "format": "~g", "values": [0, 0.1, 0.2, 0.3, 0.4, 0.5, 0.6, 0.7, 0.8, 0.9, 1],
                       "labelFontSize": 10, "labelColor": "#202020", "labelPadding": 10,
                       "domain": true, "domainColor": "#404040", "tickColor": "#404040", "tickSize": -4,
                       "grid": true, "gridColor": "#8a8a8a", "gridDash": [1, 2]}}
      },
      "layer": [
        {
          "data": {"values": [
            {"x": 0.125, "y": 0.268}, {"x": 0.13125, "y": 0.28}, {"x": 0.1375, "y": 0.291}, {"x": 0.14375, "y": 0.302},
            {"x": 0.15, "y": 0.313}, {"x": 0.15625, "y": 0.323}, {"x": 0.1625, "y": 0.334}, {"x": 0.16875, "y": 0.344},
            {"x": 0.175, "y": 0.354}, {"x": 0.18125, "y": 0.364}, {"x": 0.1875, "y": 0.374}, {"x": 0.19375, "y": 0.384},
            {"x": 0.2, "y": 0.393}, {"x": 0.20625, "y": 0.403}, {"x": 0.2125, "y": 0.412}, {"x": 0.21875, "y": 0.421},
            {"x": 0.225, "y": 0.43}, {"x": 0.23125, "y": 0.439}, {"x": 0.2375, "y": 0.448}, {"x": 0.24375, "y": 0.456},
            {"x": 0.25, "y": 0.465}, {"x": 0.25625, "y": 0.473}, {"x": 0.2625, "y": 0.481}, {"x": 0.26875, "y": 0.489},
            {"x": 0.275, "y": 0.497}, {"x": 0.28125, "y": 0.505}, {"x": 0.2875, "y": 0.513}, {"x": 0.29375, "y": 0.52},
            {"x": 0.3, "y": 0.528}, {"x": 0.30625, "y": 0.535}, {"x": 0.3125, "y": 0.542}, {"x": 0.31875, "y": 0.549},
            {"x": 0.325, "y": 0.556}, {"x": 0.33125, "y": 0.563}, {"x": 0.3375, "y": 0.57}, {"x": 0.34375, "y": 0.577},
            {"x": 0.35, "y": 0.583}, {"x": 0.35625, "y": 0.59}, {"x": 0.3625, "y": 0.596}, {"x": 0.36875, "y": 0.602},
            {"x": 0.375, "y": 0.608}, {"x": 0.38125, "y": 0.614}, {"x": 0.3875, "y": 0.62}, {"x": 0.39375, "y": 0.626},
            {"x": 0.4, "y": 0.632}, {"x": 0.40625, "y": 0.638}, {"x": 0.4125, "y": 0.643}, {"x": 0.41875, "y": 0.649},
            {"x": 0.425, "y": 0.654}, {"x": 0.43125, "y": 0.66}, {"x": 0.4375, "y": 0.665}, {"x": 0.44375, "y": 0.67},
            {"x": 0.45, "y": 0.675}, {"x": 0.4625, "y": 0.685},
            {"x": 0.475, "y": 0.695}, {"x": 0.4875, "y": 0.704}, {"x": 0.5, "y": 0.713}, {"x": 0.5125, "y": 0.722},
            {"x": 0.525, "y": 0.731}, {"x": 0.5375, "y": 0.739}, {"x": 0.55, "y": 0.747}, {"x": 0.5625, "y": 0.755},
            {"x": 0.575, "y": 0.762}, {"x": 0.5875, "y": 0.77}, {"x": 0.6, "y": 0.777}, {"x": 0.6125, "y": 0.784},
            {"x": 0.625, "y": 0.79}, {"x": 0.6375, "y": 0.797}, {"x": 0.65, "y": 0.803}, {"x": 0.6625, "y": 0.809},
            {"x": 0.675, "y": 0.815}, {"x": 0.6875, "y": 0.821}, {"x": 0.7, "y": 0.826}, {"x": 0.7125, "y": 0.832},
            {"x": 0.725, "y": 0.837}, {"x": 0.7375, "y": 0.842}, {"x": 0.75, "y": 0.847}, {"x": 0.7625, "y": 0.851},
            {"x": 0.775, "y": 0.856}, {"x": 0.7875, "y": 0.86}, {"x": 0.8, "y": 0.865}, {"x": 0.825, "y": 0.873},
            {"x": 0.85, "y": 0.881}, {"x": 0.875, "y": 0.888}, {"x": 0.9, "y": 0.895}, {"x": 0.925, "y": 0.901},
            {"x": 0.95, "y": 0.907}, {"x": 0.975, "y": 0.913}, {"x": 1.0, "y": 0.918}, {"x": 1.025, "y": 0.923},
            {"x": 1.05, "y": 0.928}, {"x": 1.115, "y": 0.938}, {"x": 1.165, "y": 0.946}, {"x": 1.225, "y": 0.953},
            {"x": 1.235, "y": 0.954}, {"x": 1.245, "y": 0.956}, {"x": 1.36, "y": 0.967}, {"x": 1.6, "y": 0.982}
          ]},
          "mark": {"type": "point", "shape": "circle", "filled": false, "stroke": "#ff0000", "strokeWidth": 1.4, "size": 40, "opacity": 1}
        },
        {
          "data": {"values": [
            {"x": 0.125, "y": 0, "o": 0}, {"x": 0.125, "y": 0.2, "o": 1}, {"x": 0.25, "y": 0.255, "o": 2},
            {"x": 0.25, "y": 0.375, "o": 3}, {"x": 0.375, "y": 0.46, "o": 4}, {"x": 0.375, "y": 0.56, "o": 5},
            {"x": 0.5, "y": 0.64, "o": 6}, {"x": 0.5, "y": 0.71, "o": 7}, {"x": 0.625, "y": 0.765, "o": 8},
            {"x": 0.625, "y": 0.83, "o": 9}, {"x": 0.75, "y": 0.87, "o": 10}, {"x": 0.75, "y": 0.935, "o": 11},
            {"x": 0.875, "y": 0.955, "o": 12}, {"x": 1.0, "y": 0.975, "o": 13}, {"x": 1.0, "y": 0.995, "o": 14},
            {"x": 1.03, "y": 1, "o": 15}
          ]},
          "mark": {"type": "line", "stroke": "#0000ff", "strokeWidth": 3.5, "strokeJoin": "miter"},
          "encoding": {"order": {"field": "o", "type": "quantitative"}}
        },
        {
          "data": {"values": [
            {"x": 1.0, "y": 1}, {"x": 1.02, "y": 1}, {"x": 1.04, "y": 1}, {"x": 1.115, "y": 1},
            {"x": 1.165, "y": 1}, {"x": 1.235, "y": 1}, {"x": 1.36, "y": 1}, {"x": 1.6, "y": 1}
          ]},
          "mark": {"type": "point", "shape": "M-1,-1L1,1M-1,1L1,-1", "filled": false, "stroke": "#0000ff", "strokeWidth": 1.5, "size": 22, "opacity": 1}
        }
      ]
    }
  ]
}
